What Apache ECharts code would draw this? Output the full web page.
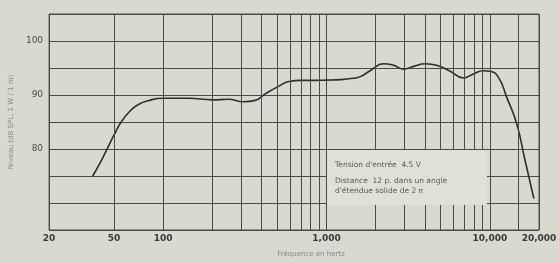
<!DOCTYPE html>
<html>
<head>
<meta charset="utf-8">
<script src="https://cdn.jsdelivr.net/npm/echarts@6/dist/echarts.min.js"></script>
<style>
  html, body { margin: 0; padding: 0; background: #d9d9d0; }
  #chart { width: 559px; height: 263px; }
</style>
</head>
<body>
<div id="chart"></div>
<script>
// Réponse en fréquence
var freq = [37, 42, 46, 50, 55, 62, 70, 82, 100, 143, 200, 250, 310, 366, 421, 508, 590, 700, 840, 1000,
            1220, 1450, 1610, 1850, 2235, 2570, 2960, 3410, 4020, 4730, 5710, 6890, 7930, 9120, 10030,
            11270, 12680, 14600, 16400, 18600];
var level = [75, 78, 80.4, 82.6, 84.9, 86.9, 88.2, 89, 89.4, 89.4, 89.1, 89.2, 88.75, 89, 90.2, 91.6, 92.5, 92.7, 92.7, 92.75,
             92.85, 93.1, 93.4, 94.5, 95.8, 95.5, 94.8, 95.3, 95.8, 95.5, 94.4, 93.15, 93.9, 94.5, 94.4,
             93.3, 89.6, 84.7, 78, 70.8];

// Lignes verticales de la grille et étiquettes de l'axe des fréquences
var gridFreqs = [50, 100, 200, 300, 400, 500, 600, 700, 800, 900, 1000,
                 2000, 3000, 4000, 5000, 6000, 7000, 8000, 9000, 10000, 15000];
var freqLabels = [20, 50, 100, 1000, 10000, 20000];
var levelLabels = [80, 90, 100];

var noteLines = ["Tension d'entrée  4.5 V", "Distance  12 p. dans un angle", "d'étendue solide de 2 π"];

var gridColor = '#4a4a46';

var lineData = [];
gridFreqs.forEach(function (f) {
    lineData.push({ xAxis: f, label: { show: false } });
});
freqLabels.forEach(function (f) {
    lineData.push({
        xAxis: f,
        label: {
            show: true,
            position: 'start',
            distance: 4,
            formatter: f.toLocaleString('en-US'),
            color: '#3a3a38',
            fontSize: 9,
            fontWeight: 'bold',
            fontFamily: 'DejaVu Sans'
        }
    });
});

var chart = echarts.init(document.getElementById('chart'));

var option = {
    backgroundColor: '#d9d9d0',
    animation: false,
    grid: {
        left: 48,
        right: 20,
        top: 14,
        bottom: 32,
        show: true,
        borderColor: gridColor,
        borderWidth: 1
    },
    xAxis: {
        type: 'log',
        logBase: 10,
        min: 20,
        max: 20000,
        axisLine: { show: false },
        axisTick: { show: false },
        axisLabel: { show: false },
        splitLine: { show: false },
        minorTick: { show: false },
        minorSplitLine: { show: false },
        name: 'Fréquence en hertz',
        nameLocation: 'middle',
        nameGap: 21,
        nameTextStyle: {
            color: '#8a8a84',
            fontSize: 7,
            fontFamily: 'DejaVu Sans',
            padding: [0, 0, 0, 34]
        }
    },
    yAxis: {
        type: 'value',
        min: 65,
        max: 105,
        interval: 5,
        axisLine: { show: false },
        axisTick: { show: false },
        axisLabel: {
            margin: 6,
            color: '#4a4a46',
            fontSize: 9,
            fontFamily: 'DejaVu Sans',
            formatter: function (v) {
                return levelLabels.indexOf(v) >= 0 ? String(v) : '';
            }
        },
        splitLine: { show: true, lineStyle: { color: gridColor, width: 1 } },
        name: 'Niveau (dB SPL, 1 W / 1 m)',
        nameLocation: 'middle',
        nameGap: 34,
        nameTextStyle: {
            color: '#8a8a84',
            fontSize: 7,
            fontFamily: 'DejaVu Sans'
        }
    },
    series: [
        {
            type: 'line',
            data: freq.map(function (f, i) { return [f, level[i]]; }),
            smooth: 0.5,
            showSymbol: false,
            z: 3,
            lineStyle: { color: '#2e2e2c', width: 1.6 },
            markLine: {
                silent: true,
                symbol: 'none',
                label: { show: false },
                lineStyle: { color: gridColor, width: 1, type: 'solid' },
                emphasis: { disabled: true },
                data: lineData
            }
        }
    ],
    graphic: [
        {
            type: 'rect',
            left: 327,
            top: 150,
            shape: { width: 160, height: 55 },
            style: { fill: '#e0e0d8' },
            z: 10
        },
        {
            type: 'text',
            left: 335,
            top: 161,
            z: 11,
            style: {
                text: noteLines[0],
                fill: '#5a5a54',
                fontSize: 7.5,
                fontFamily: 'DejaVu Sans'
            }
        },
        {
            type: 'text',
            left: 335,
            top: 176,
            z: 11,
            style: {
                text: noteLines[1] + '\n' + noteLines[2],
                fill: '#5a5a54',
                fontSize: 7.5,
                lineHeight: 10,
                fontFamily: 'DejaVu Sans'
            }
        }
    ]
};

chart.setOption(option);
</script>
</body>
</html>
